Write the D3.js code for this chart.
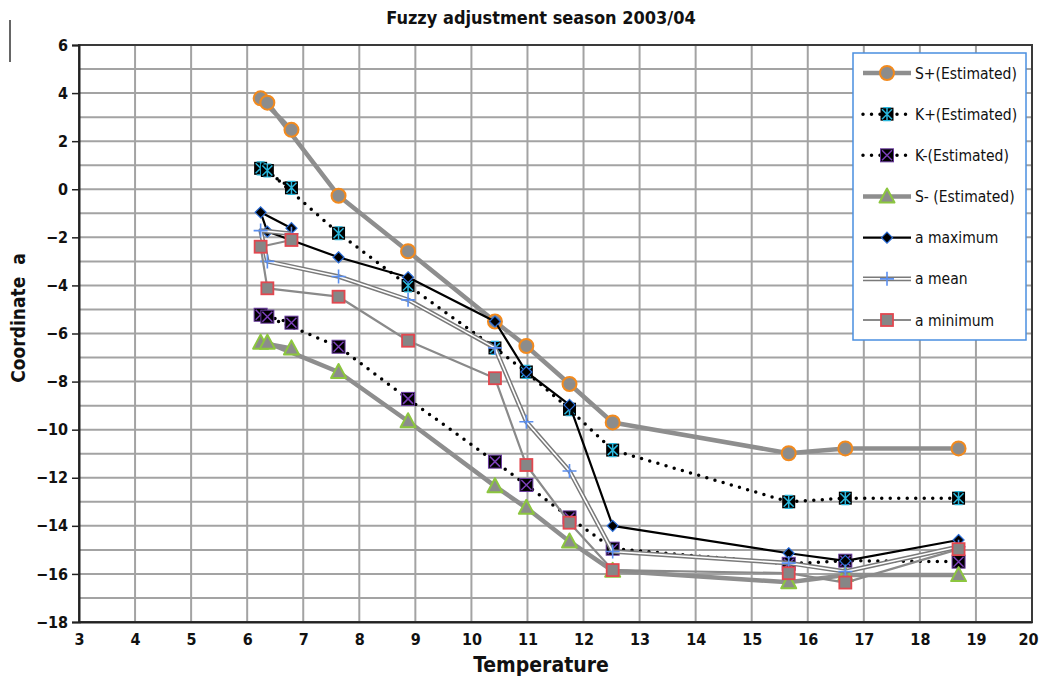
<!DOCTYPE html>
<html>
<head>
<meta charset="utf-8">
<script src="https://cdn.jsdelivr.net/npm/d3@7"></script>
<style>
html,body{margin:0;padding:0;background:#fff;}
svg{display:block;}
</style>
</head>
<body>
<svg id="chart" width="1040" height="677"></svg>
<script>
// ---- data (order as in the source table) ----
const temperature = [6.79, 6.24, 6.36, 7.63, 8.87, 10.42, 10.98, 11.75, 12.52, 15.66, 16.67, 18.69];
const sPlus  = [2.47, 3.78, 3.6, -0.27, -2.58, -5.5, -6.52, -8.1, -9.7, -10.98, -10.78, -10.78];
const kPlus  = [0.06, 0.87, 0.78, -1.83, -4.0, -6.6, -7.6, -9.15, -10.85, -13.0, -12.85, -12.85];
const kMinus = [-5.55, -5.22, -5.3, -6.55, -8.72, -11.33, -12.3, -13.65, -14.95, -15.58, -15.45, -15.49];
const sMinus = [-6.62, -6.38, -6.38, -7.6, -9.65, -12.35, -13.25, -14.65, -15.87, -16.35, -16.05, -16.05];
const aMax   = [-1.62, -0.96, -1.76, -2.83, -3.66, -5.5, -7.6, -8.97, -14.0, -15.14, -15.46, -14.59];
const aMean  = [-1.85, -1.72, -3.0, -3.63, -4.6, -6.6, -9.67, -11.72, -15.07, -15.55, -15.9, -14.87];
const aMin   = [-2.11, -2.39, -4.12, -4.47, -6.3, -7.86, -11.47, -13.87, -15.84, -15.97, -16.36, -14.97];
const seriesNames = ["S+(Estimated)", "K+(Estimated)", "K-(Estimated)", "S- (Estimated)", "a maximum", "a mean", "a minimum"];
const xTicks = d3.range(3, 21, 1);
const yTicks = d3.range(-18, 7, 2);
const titleText = "Fuzzy adjustment season 2003/04";
const xTitle = "Temperature";
const yTitle = "Coordinate  a";

// ---- layout ----
const L = 79, R = 1032, T = 45, B = 622;
const svg = d3.select("#chart");
const x = d3.scaleLinear().domain([3, 20]).range([L, R]);
const y = d3.scaleLinear().domain([-18, 6]).range([B, T]);
const narrow = "'Liberation Sans Narrow','DejaVu Sans Condensed',Arial,sans-serif";

// frame fragment at top-left
svg.append("line").attr("x1", 10).attr("x2", 10).attr("y1", 20).attr("y2", 62)
  .attr("stroke", "#333").attr("stroke-width", 1.5);

// grid
const grid = svg.append("g");
grid.selectAll(".gx").data(d3.range(4, 20, 1)).join("line")
  .attr("x1", d => x(d)).attr("x2", d => x(d)).attr("y1", T).attr("y2", B)
  .attr("stroke", "#a3a3a3").attr("stroke-width", 2);
grid.selectAll(".gy").data(d3.range(-17, 6, 1)).join("line")
  .attr("x1", L).attr("x2", R).attr("y1", d => y(d)).attr("y2", d => y(d))
  .attr("stroke", "#a3a3a3").attr("stroke-width", 2);

// plot border
svg.append("rect").attr("x", L).attr("y", T).attr("width", R - L).attr("height", B - T)
  .attr("fill", "none").attr("stroke", "#3a3a3a").attr("stroke-width", 2);

// axes
const yAxis = d3.axisLeft(y).tickValues(yTicks).tickSize(7).tickPadding(4).tickFormat(d3.format("d"));
const gy = svg.append("g").attr("transform", `translate(${L},0)`).call(yAxis);
gy.select(".domain").attr("stroke", "#222").attr("stroke-width", 2);
gy.selectAll(".tick line").attr("stroke", "#222").attr("stroke-width", 1.5);
gy.selectAll(".tick text").attr("font-family", narrow).attr("font-weight", "bold")
  .attr("font-size", 16).attr("fill", "#111");

const xAxis = d3.axisBottom(x).tickValues(xTicks).tickSize(0).tickPadding(12).tickFormat(d3.format("d"));
const gx = svg.append("g").attr("transform", `translate(0,${B})`).call(xAxis);
gx.select(".domain").attr("stroke", "#222").attr("stroke-width", 2);
gx.selectAll(".tick text").attr("font-family", narrow).attr("font-weight", "bold")
  .attr("font-size", 16).attr("fill", "#111")
  .attr("dx", d => d === 20 ? -4 : 0);

// titles
svg.append("text").attr("x", 541).attr("y", 24).attr("text-anchor", "middle")
  .attr("font-family", narrow).attr("font-weight", "bold").attr("font-size", 18)
  .attr("fill", "#111").text(titleText);
svg.append("text").attr("x", 541).attr("y", 672).attr("text-anchor", "middle")
  .attr("font-family", narrow).attr("font-weight", "bold").attr("font-size", 21)
  .attr("fill", "#111").text(xTitle);
svg.append("text").attr("transform", "translate(25,318) rotate(-90)").attr("text-anchor", "middle")
  .attr("font-family", narrow).attr("font-weight", "bold").attr("font-size", 19)
  .attr("fill", "#111").attr("xml:space", "preserve").text(yTitle);

// ---- series styles ----
const series = [
  {name: seriesNames[0], vals: sPlus,  line: [{c: "#8e8e8e", w: 4.5}], marker: "circle"},
  {name: seriesNames[1], vals: kPlus,  line: [{c: "#000", w: 3.5, dash: "0,8.5"}], marker: "kplus"},
  {name: seriesNames[2], vals: kMinus, line: [{c: "#000", w: 3.5, dash: "0,8.5"}], marker: "kminus"},
  {name: seriesNames[3], vals: sMinus, line: [{c: "#8e8e8e", w: 4.5}], marker: "triangle"},
  {name: seriesNames[4], vals: aMax,   line: [{c: "#000", w: 2.2}], marker: "diamond"},
  {name: seriesNames[5], vals: aMean,  line: [{c: "#7a7a7a", w: 4.6}, {c: "#fff", w: 1.6}], marker: "plus"},
  {name: seriesNames[6], vals: aMin,   line: [{c: "#8a8a8a", w: 2.2}], marker: "square"}
];

function drawMarker(g, type, cx, cy) {
  const m = g.append("g").attr("transform", `translate(${cx},${cy})`);
  if (type === "circle") {
    m.append("circle").attr("r", 7).attr("fill", "#8c8c8c").attr("stroke", "#f28a1e").attr("stroke-width", 2);
  } else if (type === "kplus") {
    m.append("rect").attr("x", -6.5).attr("y", -6.5).attr("width", 13).attr("height", 13).attr("fill", "#000");
    const p = "M-5,-5L5,5M5,-5L-5,5M0,-6.5L0,6.5";
    m.append("path").attr("d", p).attr("stroke", "#2ab7dc").attr("stroke-width", 1.5).attr("fill", "none");
    m.append("path").attr("d", "M-4,-6.5L4,-6.5M-4,6.5L4,6.5").attr("stroke", "#2ab7dc").attr("stroke-width", 1.2);
  } else if (type === "kminus") {
    m.append("rect").attr("x", -6.5).attr("y", -6.5).attr("width", 13).attr("height", 13).attr("fill", "#000")
      .attr("stroke", "#6a3aa0").attr("stroke-width", 1);
    m.append("path").attr("d", "M-5,-5L5,5M5,-5L-5,5").attr("stroke", "#7b3fb8").attr("stroke-width", 1.5);
  } else if (type === "triangle") {
    m.append("path").attr("d", "M0,-8L7.5,6L-7.5,6Z").attr("fill", "#8c8c8c")
      .attr("stroke", "#8cc63f").attr("stroke-width", 2).attr("stroke-linejoin", "round");
  } else if (type === "diamond") {
    m.append("path").attr("d", "M0,-5.5L5.5,0L0,5.5L-5.5,0Z").attr("fill", "#000")
      .attr("stroke", "#2a6cd6").attr("stroke-width", 1.2);
  } else if (type === "plus") {
    m.append("path").attr("d", "M-7,0L7,0M0,-7L0,7").attr("stroke", "#5b8ff0").attr("stroke-width", 1.6);
  } else if (type === "square") {
    m.append("rect").attr("x", -6).attr("y", -6).attr("width", 12).attr("height", 12).attr("fill", "#868686")
      .attr("stroke", "#e2474f").attr("stroke-width", 1.8);
  }
}

const plot = svg.append("g");
const lineGen = d3.line().x(d => x(d[0])).y(d => y(d[1]));
series.forEach(s => {
  const pts = temperature.map((t, i) => [t, s.vals[i]]);
  const g = plot.append("g");
  s.line.forEach(st => {
    const p = g.append("path").attr("d", lineGen(pts)).attr("fill", "none")
      .attr("stroke", st.c).attr("stroke-width", st.w).attr("stroke-linejoin", "round");
    if (st.dash) p.attr("stroke-dasharray", st.dash).attr("stroke-linecap", "round");
  });
  pts.forEach(p => drawMarker(g, s.marker, x(p[0]), y(p[1])));
});

// ---- legend ----
const lg = svg.append("g");
lg.append("rect").attr("x", 853).attr("y", 53).attr("width", 173).attr("height", 287)
  .attr("fill", "#fff").attr("stroke", "#4a8fe0").attr("stroke-width", 1.5);
const legY = d3.scalePoint().domain(seriesNames).range([73, 320]);
series.forEach(s => {
  const cy = legY(s.name);
  s.line.forEach(st => {
    const p = lg.append("line").attr("x1", 863).attr("x2", 911).attr("y1", cy).attr("y2", cy)
      .attr("stroke", st.c).attr("stroke-width", st.w);
    if (st.dash) p.attr("stroke-dasharray", st.dash).attr("stroke-linecap", "round");
  });
  drawMarker(lg, s.marker, 887, cy);
  lg.append("text").attr("x", 915).attr("y", cy + 5.5).attr("font-family", "'DejaVu Sans Condensed','DejaVu Sans',sans-serif")
    .attr("font-size", 15.5).attr("fill", "#111").attr("xml:space", "preserve").text(s.name);
});
</script>
</body>
</html>
